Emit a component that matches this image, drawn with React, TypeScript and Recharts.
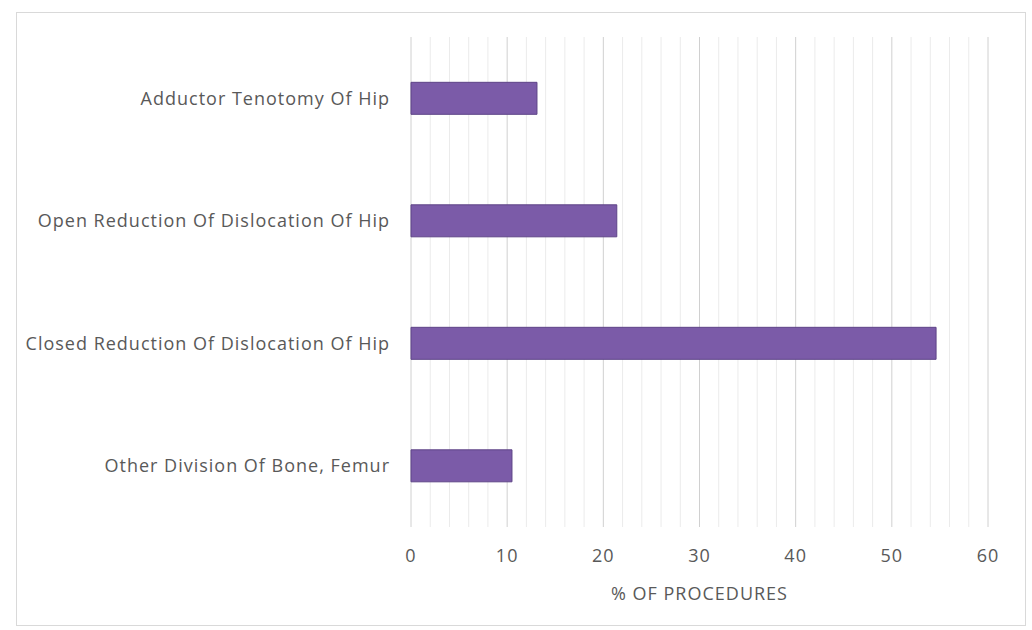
import React from 'react';
import { BarChart, Bar, XAxis, YAxis, CartesianGrid, Label } from 'recharts';

// Procedure names, top to bottom
const procedures = [
  'Adductor Tenotomy Of Hip',
  'Open Reduction Of Dislocation Of Hip',
  'Closed Reduction Of Dislocation Of Hip',
  'Other Division Of Bone, Femur',
];

// Share of procedures (%)
const percentOfProcedures = [13.1, 21.4, 54.6, 10.5];

const majorTicks = [0, 10, 20, 30, 40, 50, 60];
// faint minor gridlines every 2 units
const minorTicks = [2, 4, 6, 8, 12, 14, 16, 18, 22, 24, 26, 28, 32, 34, 36, 38, 42, 44, 46, 48, 52, 54, 56, 58];

const gridValues = [...majorTicks, ...minorTicks];

const FONT = '"Open Sans", "Liberation Sans", sans-serif';
const TEXT = '#595959';
const textStyle = { fill: TEXT, fontSize: 18, fontFamily: FONT, letterSpacing: 1 };

const data = procedures.map((name, i) => ({ name, value: percentOfProcedures[i] }));

// grid positions come from the x axis scale
const gridCoords = (props: any) => {
  const scale = props?.xAxis?.scale;
  if (!scale) return [];
  const fn = typeof scale === 'function' ? scale : scale.map ?? scale.scale;
  return gridValues.map((v) => fn(v));
};

// major lines darker, minor lines very faint
const GridLine = (props: any) => {
  const { x1, x2, y1, y2, index } = props;
  const isMajor = index < majorTicks.length;
  return (
    <line
      x1={x1}
      x2={x2}
      y1={y1}
      y2={y2}
      stroke={isMajor ? '#d0d0d0' : '#ebebeb'}
      strokeWidth={1}
    />
  );
};

export default function App() {
  return (
    <div style={{ position: 'absolute', left: 0, top: 0, width: 1032, height: 630, background: '#fff' }}>
      <div
        style={{
          position: 'absolute',
          left: 16,
          top: 12,
          width: 1008,
          height: 612,
          border: '1px solid #d9d9d9',
        }}
      />
      <div style={{ position: 'absolute', left: 0, top: 0 }}>
        <BarChart
          width={1032}
          height={630}
          data={data}
          layout="vertical"
          margin={{ top: 37, right: 44, bottom: 30, left: 0 }}
          barCategoryGap="37%"
        >
          <CartesianGrid
            horizontal={false}
            vertical={GridLine}
            verticalCoordinatesGenerator={gridCoords}
            stroke="#d0d0d0"
          />
          <XAxis
            type="number"
            domain={[0, 60]}
            ticks={majorTicks}
            axisLine={false}
            tickLine={false}
            tickMargin={16}
            height={73}
            tick={textStyle}
          >
            <Label value="% OF PROCEDURES" position="insideBottom" offset={0} style={textStyle} />
          </XAxis>
          <YAxis
            type="category"
            dataKey="name"
            width={411}
            axisLine={false}
            tickLine={false}
            tickMargin={15}
            tick={textStyle}
          />
          <Bar dataKey="value" fill="#7b5ba8" stroke="#5e4487" strokeWidth={1} isAnimationActive={false} />
        </BarChart>
      </div>
    </div>
  );
}
